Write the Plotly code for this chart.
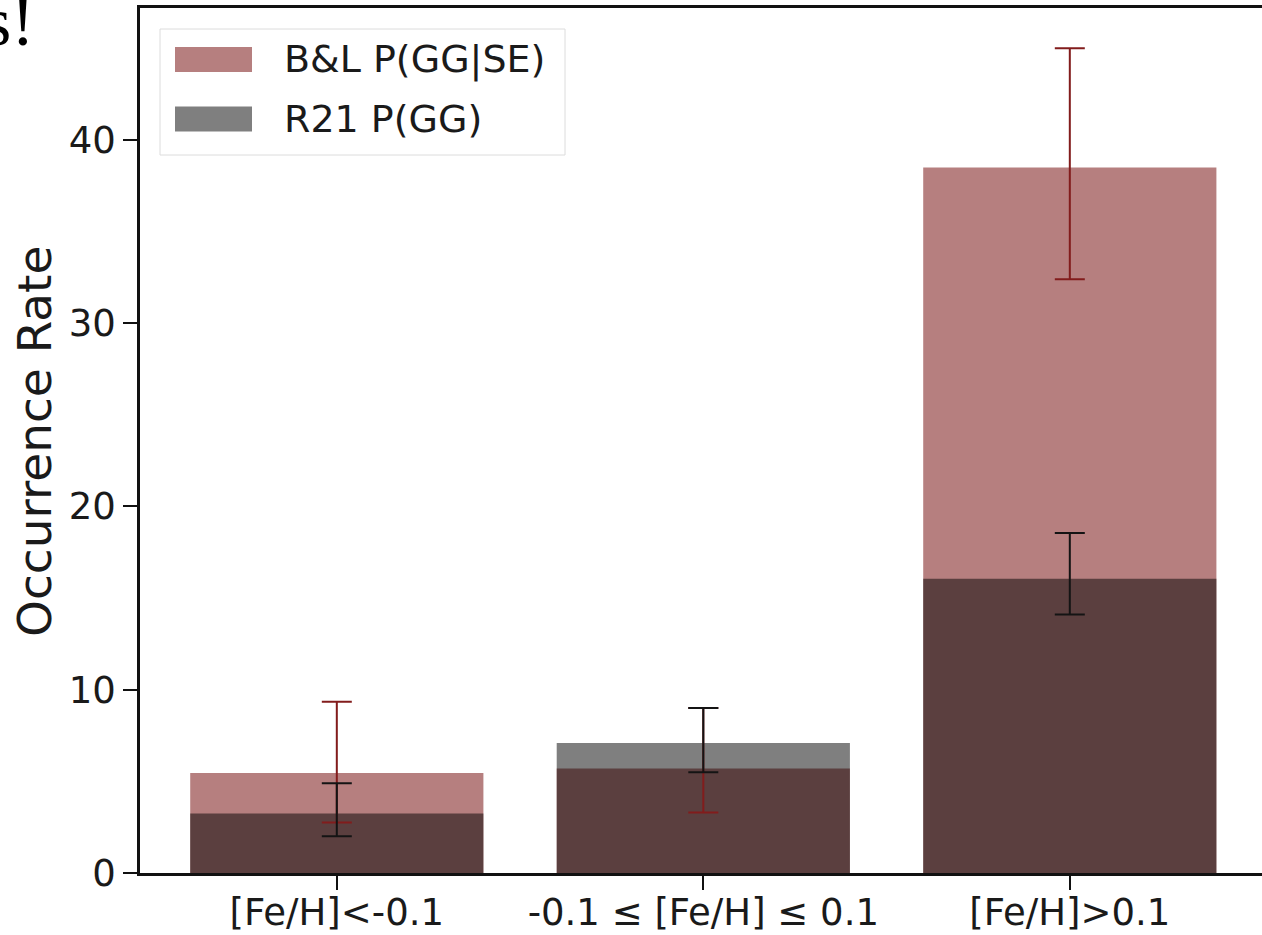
import plotly.graph_objects as go

# Metallicity bins
categories = ["[Fe/H]<-0.1", "-0.1 ≤ [Fe/H] ≤ 0.1", "[Fe/H]>0.1"]
series_names = ["B&L P(GG|SE)", "R21 P(GG)"]

# B&L occurrence rates with lower / upper bounds
bl_rate = [5.45, 5.7, 38.5]
bl_low = [2.75, 3.3, 32.4]
bl_high = [9.35, 9.0, 45.0]

# R21 occurrence rates with lower / upper bounds
r21_rate = [3.25, 7.1, 16.05]
r21_low = [2.0, 5.5, 14.1]
r21_high = [4.9, 9.0, 18.55]

y_ticks = [0, 10, 20, 30, 40]

W, H = 1262, 935
ML, MR, MT, MB = 140, 0, 8, 62
PW, PH = W - ML - MR, H - MT - MB

FONT = "DejaVu Sans"
BL_FILL = "rgba(110,0,0,0.5)"
R21_FILL = "rgba(0,0,0,0.5)"
BL_ERR = "rgb(130,28,28)"
R21_ERR = "rgb(20,20,20)"


def px_x(p):
    return (p - ML) / PW


def px_y(p):
    return (H - MB - p) / PH


fig = go.Figure()

fig.add_trace(go.Bar(x=categories, y=bl_rate, name=series_names[0],
                     width=0.8, marker=dict(color=BL_FILL, line=dict(width=0)),
                     showlegend=False))
fig.add_trace(go.Bar(x=categories, y=r21_rate, name=series_names[1],
                     width=0.8, marker=dict(color=R21_FILL, line=dict(width=0)),
                     showlegend=False))

# error bars drawn above both sets of bars
for rate, lo, hi, col in [(bl_rate, bl_low, bl_high, BL_ERR),
                          (r21_rate, r21_low, r21_high, R21_ERR)]:
    fig.add_trace(go.Scatter(
        x=categories, y=rate, mode="markers",
        marker=dict(size=1, opacity=0),
        error_y=dict(type="data", symmetric=False,
                     array=[h - r for h, r in zip(hi, rate)],
                     arrayminus=[r - l for l, r in zip(lo, rate)],
                     color=col, thickness=2, width=15),
        showlegend=False, hoverinfo="skip"))

# legend box
shapes = [dict(type="rect", xref="paper", yref="paper",
               x0=px_x(160), x1=px_x(565), y0=px_y(155), y1=px_y(29),
               line=dict(color="#dcdcdc", width=1), fillcolor="rgba(255,255,255,0.8)",
               layer="above")]
annotations = []
for i, (name, fill) in enumerate(zip(series_names, [BL_FILL, R21_FILL])):
    yc = 59.5 + i * 59.5
    shapes.append(dict(type="rect", xref="paper", yref="paper",
                       x0=px_x(175), x1=px_x(252), y0=px_y(yc + 12.5), y1=px_y(yc - 12.5),
                       line=dict(width=0), fillcolor=fill, layer="above"))
    annotations.append(dict(xref="paper", yref="paper", x=px_x(282), y=px_y(yc),
                            xanchor="left", yanchor="middle", showarrow=False,
                            text=name, font=dict(family=FONT, size=38, color="#1a1a1a")))

# y-axis title
annotations.append(dict(xref="paper", yref="paper", x=px_x(34), y=px_y(442),
                        xanchor="center", yanchor="middle", showarrow=False,
                        textangle=-90, text="Occurrence Rate",
                        font=dict(family=FONT, size=47, color="#1a1a1a")))

# fragment of slide text at the corner
annotations.append(dict(xref="paper", yref="paper", x=px_x(37), y=px_y(21),
                        xanchor="right", yanchor="middle", showarrow=False,
                        text="s!", font=dict(family="Liberation Serif", size=70, color="black")))

fig.update_layout(
    width=W, height=H,
    margin=dict(l=ML, r=MR, t=MT, b=MB, pad=0, autoexpand=False),
    barmode="overlay",
    plot_bgcolor="white", paper_bgcolor="white",
    shapes=shapes, annotations=annotations,
    font=dict(family=FONT, color="#1a1a1a"),
    showlegend=False,
)

fig.update_xaxes(type="category", range=[-0.537, -0.537 + PW / 366.5],
                 automargin=False,
                 showline=True, linecolor="#111", linewidth=2.5, mirror=True,
                 ticks="outside", ticklen=14, tickwidth=2, tickcolor="#111",
                 ticklabelstandoff=-9,
                 showgrid=False, zeroline=False,
                 tickfont=dict(family=FONT, size=37, color="#1a1a1a"))
fig.update_yaxes(range=[0, 47.2], tickvals=y_ticks, automargin=False,
                 showline=True, linecolor="#111", linewidth=2.5,
                 ticks="outside", ticklen=14, tickwidth=2, tickcolor="#111",
                 showgrid=False, zeroline=False,
                 tickfont=dict(family=FONT, size=37, color="#1a1a1a"))

fig.write_html("out.html")
